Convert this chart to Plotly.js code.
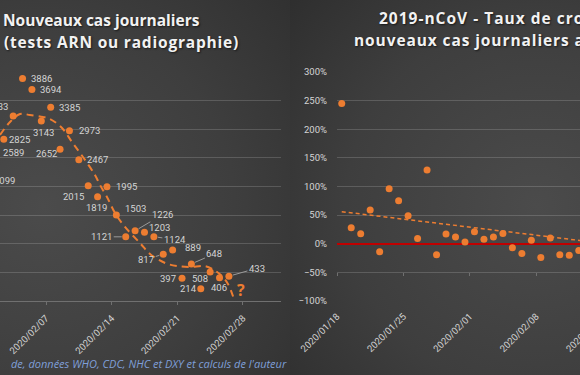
<!DOCTYPE html>
<html>
<head>
<meta charset="utf-8">
<script src="https://cdn.plot.ly/plotly-3.0.1.min.js"></script>
<style>
  html, body { margin: 0; padding: 0; width: 580px; height: 375px; overflow: hidden; background: #333; }
  #bgL { position: absolute; left: 0; top: 0; width: 290px; height: 375px;
         background: radial-gradient(ellipse 120% 90% at 15% 55%, #4b4b4b 0%, #3e3e3e 55%, #2f2f2f 100%); }
  #bgR { position: absolute; left: 290px; top: 0; width: 290px; height: 375px;
         background: radial-gradient(ellipse 120% 90% at 85% 55%, #4b4b4b 0%, #3e3e3e 55%, #2c2c2c 100%); }
  #chart { position: absolute; left: -60px; top: 0; width: 700px; height: 375px; }
  #chart g.annotation[data-index="28"] text { letter-spacing: 0.8px; }
  #chart g.annotation[data-index="29"] text { letter-spacing: 1px; }
  #chart g.annotation[data-index="30"] text { letter-spacing: 0.9px; }
</style>
</head>
<body>
<div id="bgL"></div>
<div id="bgR"></div>
<div id="chart"></div>
<script>
// ---- Data ----
const leftDates = ['2020-01-31','2020-02-01','2020-02-02','2020-02-03','2020-02-04','2020-02-05','2020-02-06',
  '2020-02-07','2020-02-08','2020-02-09','2020-02-10','2020-02-11','2020-02-12','2020-02-13','2020-02-14',
  '2020-02-15','2020-02-16','2020-02-17','2020-02-18','2020-02-19','2020-02-20','2020-02-21','2020-02-22',
  '2020-02-23','2020-02-24','2020-02-25','2020-02-26'];
const leftValues = [2099, 2589, 2825, 3233, 3886, 3694, 3143, 3385, 2652, 2973, 2467, 2015, 1819, 1995, 1503,
  1121, 1226, 1203, 1124, 817, 889, 397, 648, 214, 508, 406, 433];

// trend curve of the left chart
const leftTrendDates = ['2020-02-02 02:24','2020-02-03 03:50','2020-02-04 05:31','2020-02-05 07:00','2020-02-06 16:19',
  '2020-02-07 10:19','2020-02-08 17:02','2020-02-09 18:29','2020-02-10 22:34','2020-02-12 05:17','2020-02-12 18:14',
  '2020-02-13 12:00','2020-02-14 08:38','2020-02-15 10:05','2020-02-17 00:29','2020-02-18 02:10','2020-02-19 16:34',
  '2020-02-20 23:17','2020-02-22 08:24','2020-02-23 22:48','2020-02-24 21:50','2020-02-25 18:14','2020-02-26 09:36',
  '2020-02-27 00:58'];
const leftTrendValues = [2900, 3127, 3266, 3249, 3214, 3179, 3022, 2777, 2515, 2201, 2026, 1817, 1537, 1293, 1013,
  821, 664, 611, 594, 611, 541, 437, 297, 35];

const rightDates = ['2020-01-18','2020-01-19','2020-01-20','2020-01-21','2020-01-22','2020-01-23','2020-01-24',
  '2020-01-25','2020-01-26','2020-01-27','2020-01-28','2020-01-29','2020-01-30','2020-01-31','2020-02-01',
  '2020-02-02','2020-02-03','2020-02-04','2020-02-05','2020-02-06','2020-02-07','2020-02-08','2020-02-09',
  '2020-02-10','2020-02-11','2020-02-12'];
const rightValues = [2.45, 0.28, 0.175, 0.59, -0.14, 0.96, 0.75, 0.49, 0.09, 1.29, -0.19, 0.17, 0.12, 0.03, 0.21,
  0.08, 0.12, 0.18, -0.07, -0.17, 0.06, -0.24, 0.10, -0.19, -0.20, -0.12];

// linear trend of the right chart, read at its two ends
const rightTrendDates = ['2020-01-18 12:00', '2020-02-14 12:00'];
const rightTrendValues = [0.56, 0.02];

const leftTickVals = ['2020-02-07','2020-02-14','2020-02-21','2020-02-28'];
const leftTickText = ['2020/02/07','2020/02/14','2020/02/21','2020/02/28'];
const rightTickVals = ['2020-01-18','2020-01-25','2020-02-01','2020-02-08','2020-02-15'];
const rightTickText = ['2020/01/18','2020/01/25','2020/02/01','2020/02/08','2020/02/15'];

const leftTitle = ['Nouveaux cas journaliers', '(tests ARN ou radiographie)'];
const rightTitle = ['2019-nCoV - Taux de croissance des', 'nouveaux cas journaliers au total'];
const sourceText = "de, données WHO, CDC, NHC et DXY et calculs de l'auteur";

// ---- Label placement (pixel offsets from each point; leader line flag) ----
const labelOffsets = [[19,0],[19,0],[16,0],[-16,-9],[19,0],[19,0],[2,11],[19,0],[-14,4],[20,0],[19,0],[-15,11],
  [-1,11],[20,0],[19,-6],[-24,0],[27,-16],[15,-5],[21,3],[-17,5],[20,-3],[-14,0],[23,-10],[-12,0],[-10,7],[-1,10],[28,-8]];
const leaders = [0,0,0,0,0,0,0,0,0,0,0,0,0,0,0,1,1,0,1,1,0,0,1,0,0,0,1];

// ---- Geometry ----
const OFF = 60, W = 700, H = 375;
const px = x => (x + OFF) / W;
const py = y => 1 - y / H;
const yDom = [py(301), py(72)];

const ORANGE = '#ed7d31';
const GRID = 'rgba(255,255,255,0.16)';
const TXT = '#d4d4d4';
const half = d => d + ' 12:00';

const traces = [
  { x: leftTrendDates, y: leftTrendValues, xaxis: 'x', yaxis: 'y', mode: 'lines', type: 'scatter',
    line: { color: ORANGE, width: 2, dash: '7px,5px', shape: 'spline', smoothing: 1 }, hoverinfo: 'skip' },
  { x: leftDates.map(half), y: leftValues, xaxis: 'x', yaxis: 'y', mode: 'markers', type: 'scatter',
    marker: { color: ORANGE, size: 7 } },
  { x: rightTrendDates, y: rightTrendValues, xaxis: 'x2', yaxis: 'y2', mode: 'lines', type: 'scatter',
    line: { color: ORANGE, width: 1.5, dash: '4px,3px' } },
  { x: rightDates.map(half), y: rightValues, xaxis: 'x2', yaxis: 'y2', mode: 'markers', type: 'scatter',
    marker: { color: ORANGE, size: 7 } },
  { x: [rightDates[0]], y: [null], xaxis: 'x3', yaxis: 'y2', mode: 'markers', type: 'scatter', showlegend: false }
];

const annotations = [];
leftDates.forEach((d, i) => {
  const [dx, dy] = labelOffsets[i];
  const a = { x: half(d), y: leftValues[i], xref: 'x', yref: 'y', text: String(leftValues[i]),
    font: { family: 'Roboto', size: 9.5, color: TXT } };
  if (leaders[i]) {
    Object.assign(a, { showarrow: true, arrowhead: 0, arrowwidth: 1, arrowcolor: '#9a9a9a',
      ax: dx, ay: dy, standoff: 4, borderpad: 1 });
  } else {
    Object.assign(a, { showarrow: false, xshift: dx, yshift: -dy, xanchor: 'center', yanchor: 'middle' });
  }
  annotations.push(a);
});

const titleFont = { family: 'Open Sans', size: 15.5, color: '#f2f2f2', weight: 700, shadow: '1px 1px 2px rgba(0,0,0,0.6)' };
annotations.push(
  { xref: 'paper', yref: 'paper', x: px(1), y: py(20), xanchor: 'left', align: 'left', yanchor: 'middle', showarrow: false, text: leftTitle[0], font: titleFont },
  { xref: 'paper', yref: 'paper', x: px(2), y: py(42), xanchor: 'left', align: 'left', yanchor: 'middle', showarrow: false, text: leftTitle[1], font: titleFont },
  { xref: 'paper', yref: 'paper', x: px(377), y: py(18), xanchor: 'left', align: 'left', yanchor: 'middle', showarrow: false, text: rightTitle[0], font: titleFont },
  { xref: 'paper', yref: 'paper', x: px(352), y: py(40), xanchor: 'left', align: 'left', yanchor: 'middle', showarrow: false, text: rightTitle[1], font: titleFont },
  { xref: 'paper', yref: 'paper', x: px(289), y: py(363), xanchor: 'right', yanchor: 'middle', showarrow: false, text: sourceText,
    font: { family: 'Open Sans', size: 11, color: '#7f9fd8', style: 'italic' } },
  { xref: 'paper', yref: 'paper', x: px(241), y: py(290), xanchor: 'center', yanchor: 'middle', showarrow: false, text: '?',
    font: { family: 'Open Sans', size: 16, color: ORANGE, weight: 700 } }
);

const tickFont = { family: 'Roboto', size: 9.5, color: TXT };
const layout = {
  width: W, height: H, margin: { l: 0, r: 0, t: 0, b: 0 },
  paper_bgcolor: 'rgba(0,0,0,0)', plot_bgcolor: 'rgba(0,0,0,0)', showlegend: false,
  xaxis: { type: 'date', domain: [px(-30), px(281)], range: ['2020-01-29 21:33', '2020-03-03 01:16'], anchor: 'y',
    tickvals: leftTickVals, ticktext: leftTickText, tickangle: -45, tickfont: tickFont,
    ticks: 'outside', ticklen: 3, tickcolor: '#707070', showgrid: false, showline: true, linecolor: '#707070', linewidth: 1,
    ticklabelstandoff: 4, zeroline: false },
  yaxis: { domain: yDom, range: [0, 4000], dtick: 500, anchor: 'x', showticklabels: false, ticks: '',
    gridcolor: GRID, zeroline: false, showline: false },
  xaxis2: { type: 'date', domain: [px(337), 1], range: ['2020-01-18 00:00', '2020-02-18 23:03'], anchor: 'y2',
    tickvals: rightTickVals, ticktext: rightTickText, tickangle: -45, tickfont: tickFont,
    ticks: '', showgrid: false, showline: false, zeroline: false, ticklabelstandoff: 7 },
  xaxis3: { type: 'date', domain: [px(337), 1], range: ['2020-01-18 00:00', '2020-02-18 23:03'], overlaying: 'x2',
    anchor: 'free', position: py(272), tickvals: rightTickVals, showticklabels: false, ticks: 'outside', ticklen: 3,
    tickcolor: '#707070', showgrid: false, showline: false, zeroline: false },
  yaxis2: { domain: yDom, range: [-1, 3], dtick: 0.5, tickformat: '.0%', anchor: 'x2', tickfont: tickFont,
    ticks: '', gridcolor: GRID, zeroline: true, zerolinecolor: '#c00000', zerolinewidth: 1.5, showline: false,
    ticklabelstandoff: 9 },
  annotations: annotations
};

Plotly.newPlot('chart', traces, layout, { staticPlot: true, displayModeBar: false });
</script>
</body>
</html>
